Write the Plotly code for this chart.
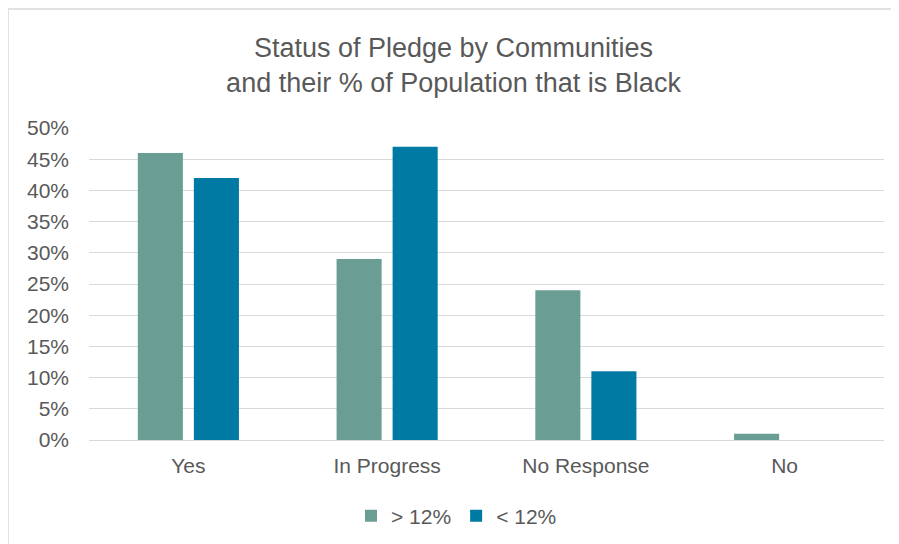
import plotly.graph_objects as go

categories = ["Yes", "In Progress", "No Response", "No"]
series_names = ["> 12%", "< 12%"]
above_12 = [0.46, 0.29, 0.24, 0.01]
below_12 = [0.42, 0.47, 0.11, 0.0]
colors = ["#6A9E95", "#0079A3"]

OFF = 8  # page offset of the figure
W, H = 899 - OFF, 544 - OFF
# reference pixel positions (page coordinates)
plot_l, plot_r, plot_t, plot_b = 89, 884, 128, 440
ml, mr, mt, mb = plot_l - OFF, W - (plot_r - OFF), plot_t - OFF, H - (plot_b - OFF)
pw, ph = W - ml - mr, H - mt - mb

def px_x(x):
    return (x - plot_l) / pw

def px_y(y):
    return (plot_b - y) / ph

fig = go.Figure()
for name, vals, col in zip(series_names, [above_12, below_12], colors):
    fig.add_trace(go.Bar(x=categories, y=vals, name=name, marker_color=col,
                         marker_line_width=0))

fig.update_layout(
    width=W, height=H,
    margin=dict(l=ml, r=mr, t=mt, b=mb, autoexpand=False),
    paper_bgcolor="white", plot_bgcolor="white",
    font=dict(family="Liberation Sans, Arial, sans-serif", color="#595959"),
    title=dict(text="Status of Pledge by Communities<br>and their % of Population that is Black",
               x=0.5, xanchor="center", y=1 - (57 - OFF) / H, yanchor="middle",
               font=dict(size=27, color="#595959")),
    barmode="group", bargap=0.436, bargroupgap=0.196,
    legend=dict(orientation="h", x=px_x(351), xanchor="left", y=px_y(516), yanchor="middle",
                font=dict(size=21, color="#595959"), itemwidth=30, traceorder="normal"),
    showlegend=True,
)
fig.update_yaxes(range=[0, 0.5], dtick=0.05, tickformat=".0%", showgrid=True,
                 gridcolor="#D9D9D9", gridwidth=1.3, zeroline=True, zerolinecolor="#D9D9D9",
                 zerolinewidth=1.3, tickfont=dict(size=21, color="#595959"), ticks="",
                 showline=False, ticklabelstandoff=19, automargin=False)
fig.update_xaxes(showline=False, tickfont=dict(size=21, color="#595959"), ticks="",
                 ticklabelstandoff=11, automargin=False)
fig.add_shape(type="rect", xref="paper", yref="paper",
              x0=px_x(8), x1=px_x(899 + 20), y0=px_y(9), y1=px_y(544 + 20),
              line=dict(color="#D9D9D9", width=1.5), fillcolor="rgba(0,0,0,0)", layer="below")

fig.write_html("out.html")
